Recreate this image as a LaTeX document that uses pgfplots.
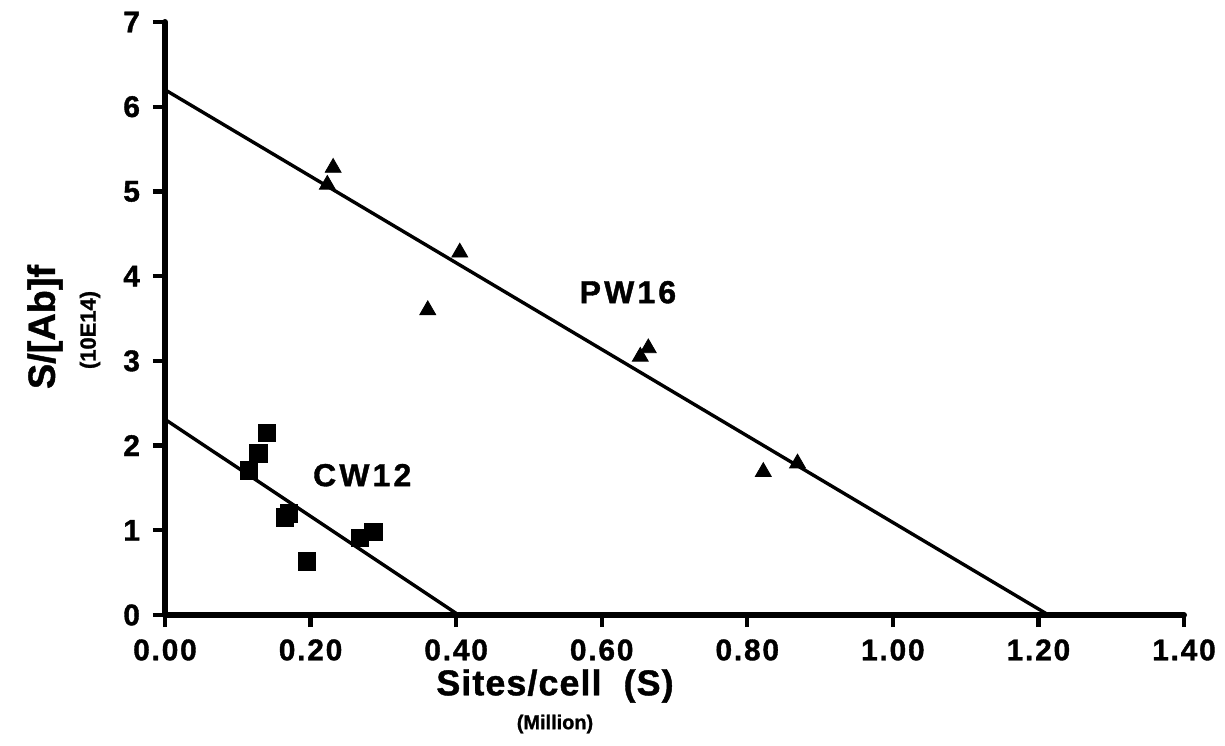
\documentclass[border=0pt]{standalone}
\usepackage{fontspec}
\setmainfont{Liberation Sans}[BoldFeatures={FakeBold=1.2}]
\usepackage{pgfplots}
\pgfplotsset{compat=1.18}
\begin{document}
\begin{tikzpicture}
\path[use as bounding box] (-82.5bp,-65.5bp) rectangle (530bp,307.5bp);
\begin{axis}[
  at={(0,0)}, anchor=south west,
  scale only axis, width=509.5bp, height=296.5bp,
  xmin=0, xmax=1.4, ymin=0, ymax=7,
  axis lines=left,
  axis line style={-, line width=3bp, line cap=round},
  tick align=outside, major tick length=6bp,
  major tick style={line width=2.2bp, black},
  xtick={0,0.2,0.4,0.6,0.8,1.0,1.2,1.4},
  ytick={0,1,2,3,4,5,6,7},
  clip=false,
  /pgf/number format/assume math mode=true,
  xticklabel style={font=\fontsize{15}{18}\selectfont\bfseries\addfontfeatures{LetterSpace=6}, /pgf/number format/fixed, /pgf/number format/fixed zerofill, /pgf/number format/precision=2, inner sep=0pt, yshift=-6bp},
  yticklabel style={font=\fontsize{15}{18}\selectfont\bfseries, xshift=-3bp},
]
\draw[black, line width=3bp, line join=round] (axis cs:0,7) -- (axis cs:0,0) -- (axis cs:1.4,0);
\addplot[black, line width=1.7bp] coordinates {(0,6.2) (1.21,0.02)};
\addplot[black, line width=1.7bp] coordinates {(0,2.31) (0.40,0.02)};
\addplot[only marks, mark=triangle*, mark size=4.6pt, black] coordinates {
  (0.231,5.28) (0.223,5.08) (0.405,4.28) (0.361,3.60)
  (0.653,3.05) (0.664,3.15) (0.822,1.69) (0.869,1.79)};
\addplot[only marks, mark=square*, mark size=4.4pt, black] coordinates {
  (0.140,2.15) (0.128,1.91) (0.115,1.71) (0.165,1.15) (0.170,1.20)
  (0.195,0.63) (0.268,0.91) (0.286,0.98)};
\node[font=\fontsize{16}{19}\selectfont\bfseries\addfontfeatures{LetterSpace=10}] at (axis cs:0.636,3.81) {PW16};
\node[font=\fontsize{16}{19}\selectfont\bfseries\addfontfeatures{LetterSpace=10}] at (axis cs:0.271,1.65) {CW12};
\end{axis}
\node[rotate=90, font=\fontsize{19}{22}\selectfont\bfseries] at (-60bp,144bp) {S/[Ab]f};
\node[rotate=90, font=\fontsize{11}{13}\selectfont\bfseries] at (-37.5bp,142.5bp) {(10E14)};
\node[inner sep=0pt, font=\fontsize{18}{22}\selectfont\bfseries\addfontfeatures{LetterSpace=3}] at (195bp,-35.5bp) {Sites/cell\ \ (S)};
\node[font=\fontsize{10}{12}\selectfont\bfseries] at (195bp,-54.5bp) {(Million)};
\end{tikzpicture}
\end{document}
